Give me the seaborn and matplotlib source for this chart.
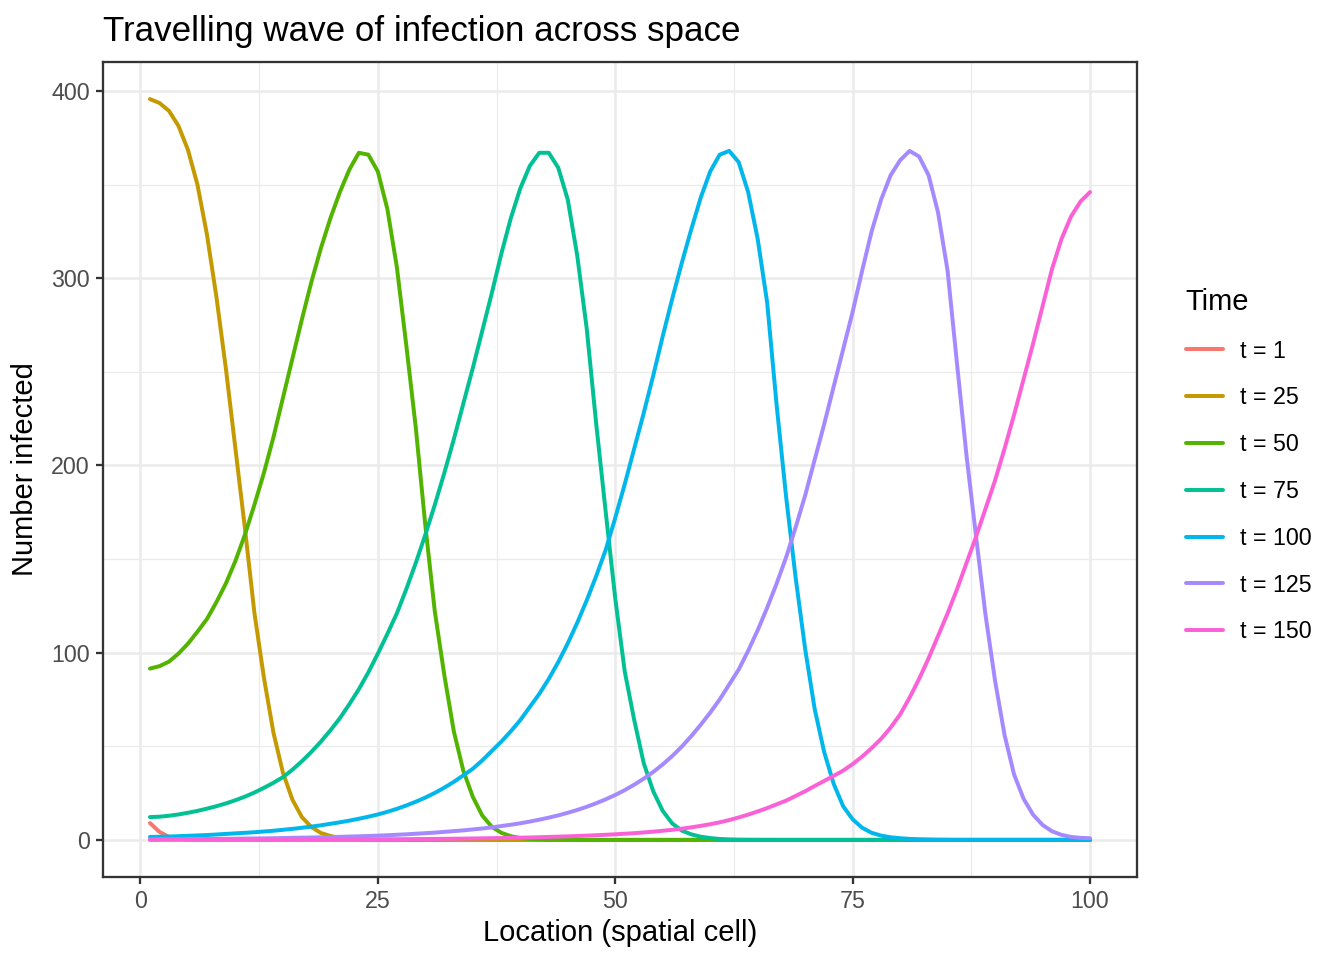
import numpy as np
import pandas as pd
import seaborn as sns
import matplotlib.pyplot as plt
from matplotlib.ticker import MultipleLocator

# locations 1..100 along the x axis
location = list(range(1, 101))

time_labels = ['t = 1', 't = 25', 't = 50', 't = 75', 't = 100', 't = 125', 't = 150']
colors = ['#F8766D', '#C49A00', '#53B400', '#00C094', '#00B6EB', '#A58AFF', '#FB61D7']

t1 = [9.0, 4.3, 1.6, 0.5, 0.15, 0.04, 0.01, 0, 0, 0,
      0, 0, 0, 0, 0, 0, 0, 0, 0, 0,
      0, 0, 0, 0, 0, 0, 0, 0, 0, 0,
      0, 0, 0, 0, 0, 0, 0, 0, 0, 0,
      0, 0, 0, 0, 0, 0, 0, 0, 0, 0,
      0, 0, 0, 0, 0, 0, 0, 0, 0, 0,
      0, 0, 0, 0, 0, 0, 0, 0, 0, 0,
      0, 0, 0, 0, 0, 0, 0, 0, 0, 0,
      0, 0, 0, 0, 0, 0, 0, 0, 0, 0,
      0, 0, 0, 0, 0, 0, 0, 0, 0, 0]

t25 = [395.7, 393.6, 389.4, 381.4, 368.6, 350.0, 323.4, 290.0, 251.6, 209.0,
       166.5, 121.3, 86.7, 57.4, 36.0, 21.5, 12.2, 6.9, 3.7, 2.1,
       1.1, 0.5, 0.25, 0.1, 0.05, 0.02, 0.01, 0, 0, 0,
       0, 0, 0, 0, 0, 0, 0, 0, 0, 0,
       0, 0, 0, 0, 0, 0, 0, 0, 0, 0,
       0, 0, 0, 0, 0, 0, 0, 0, 0, 0,
       0, 0, 0, 0, 0, 0, 0, 0, 0, 0,
       0, 0, 0, 0, 0, 0, 0, 0, 0, 0,
       0, 0, 0, 0, 0, 0, 0, 0, 0, 0,
       0, 0, 0, 0, 0, 0, 0, 0, 0, 0]

t50 = [91.5, 92.8, 95.2, 99.5, 104.8, 111.2, 118.0, 127.0, 137.0, 149.0,
       163.0, 179.0, 196.0, 215.0, 236.0, 257.0, 278.0, 298.0, 316.0, 332.0,
       346.0, 358.0, 367.0, 366.0, 357.0, 337.0, 306.0, 264.0, 220.0, 168.0,
       122.0, 88.0, 58.0, 37.0, 23.0, 13.0, 7.0, 3.8, 2.0, 1.0,
       0.5, 0.25, 0.1, 0.05, 0.02, 0.01, 0, 0, 0, 0,
       0, 0, 0, 0, 0, 0, 0, 0, 0, 0,
       0, 0, 0, 0, 0, 0, 0, 0, 0, 0,
       0, 0, 0, 0, 0, 0, 0, 0, 0, 0,
       0, 0, 0, 0, 0, 0, 0, 0, 0, 0,
       0, 0, 0, 0, 0, 0, 0, 0, 0, 0]

t75 = [12.2, 12.4, 12.9, 13.6, 14.5, 15.5, 16.7, 18.0, 19.5, 21.2,
       23.1, 25.3, 27.8, 30.5, 33.5, 37.5, 42.0, 47.0, 52.5, 58.5,
       65.0, 72.5, 80.5, 89.5, 99.5, 110.0, 121.0, 134.0, 148.0, 163.0,
       179.0, 196.0, 214.0, 233.0, 252.0, 272.0, 292.0, 313.0, 332.0, 348.0,
       360.0, 367.0, 367.0, 359.0, 342.0, 312.0, 273.0, 222.0, 175.0, 129.0,
       90.0, 64.0, 41.0, 26.0, 15.5, 8.8, 5.0, 3.0, 1.7, 1.0,
       0.5, 0.25, 0.1, 0.05, 0.02, 0.01, 0, 0, 0, 0,
       0, 0, 0, 0, 0, 0, 0, 0, 0, 0,
       0, 0, 0, 0, 0, 0, 0, 0, 0, 0,
       0, 0, 0, 0, 0, 0, 0, 0, 0, 0]

t100 = [1.6, 1.7, 1.8, 2.0, 2.2, 2.4, 2.6, 2.9, 3.2, 3.5,
        3.8, 4.1, 4.5, 4.9, 5.4, 5.9, 6.5, 7.1, 7.8, 8.6,
        9.4, 10.3, 11.3, 12.4, 13.6, 15.0, 16.6, 18.4, 20.4, 22.6,
        25.1, 27.9, 31.0, 34.5, 38.0, 42.5, 47.5, 52.5, 58.0, 64.0,
        71.0, 78.0, 86.0, 95.0, 105.0, 116.0, 128.0, 141.0, 155.0, 172.0,
        190.0, 209.0, 228.0, 248.0, 269.0, 289.0, 308.0, 326.0, 343.0, 357.0,
        366.0, 368.0, 362.0, 346.0, 321.0, 287.0, 232.0, 183.0, 140.0, 102.0,
        70.0, 47.0, 30.0, 18.0, 11.0, 6.5, 3.8, 2.3, 1.4, 0.9,
        0.55, 0.35, 0.2, 0.1, 0.05, 0.02, 0.01, 0, 0, 0,
        0, 0, 0, 0, 0, 0, 0, 0, 0, 0]

t125 = [0.3, 0.33, 0.36, 0.39, 0.42, 0.46, 0.5, 0.55, 0.6, 0.65,
        0.71, 0.77, 0.84, 0.92, 1.0, 1.1, 1.2, 1.3, 1.4, 1.5,
        1.65, 1.8, 1.95, 2.1, 2.3, 2.5, 2.75, 3.0, 3.3, 3.6,
        3.9, 4.3, 4.7, 5.1, 5.6, 6.1, 6.7, 7.4, 8.1, 8.9,
        9.8, 10.8, 11.9, 13.1, 14.5, 16.0, 17.7, 19.6, 21.7, 24.0,
        26.6, 29.5, 32.7, 36.3, 40.3, 44.8, 49.8, 55.4, 61.5, 68.0,
        75.0, 83.0, 91.0, 101.0, 112.0, 124.0, 137.0, 151.0, 167.0, 184.0,
        203.0, 222.0, 242.0, 262.0, 282.0, 304.0, 325.0, 342.0, 355.0, 363.0,
        368.0, 365.0, 355.0, 335.0, 304.0, 254.0, 205.0, 162.0, 120.0, 85.0,
        56.0, 35.0, 22.0, 13.5, 8.0, 4.6, 2.7, 1.6, 1.1, 0.9]

t150 = [0.03, 0.03, 0.04, 0.04, 0.05, 0.05, 0.06, 0.06, 0.07, 0.07,
        0.08, 0.09, 0.1, 0.11, 0.12, 0.13, 0.14, 0.16, 0.17, 0.19,
        0.21, 0.23, 0.25, 0.27, 0.3, 0.33, 0.36, 0.4, 0.44, 0.48,
        0.53, 0.58, 0.64, 0.7, 0.77, 0.85, 0.93, 1.0, 1.1, 1.2,
        1.3, 1.45, 1.6, 1.75, 1.9, 2.1, 2.3, 2.5, 2.75, 3.0,
        3.3, 3.6, 4.0, 4.4, 4.9, 5.4, 6.0, 6.7, 7.5, 8.4,
        9.4, 10.6, 12.0, 13.5, 15.2, 17.0, 19.0, 21.0, 23.5, 26.0,
        28.8, 31.5, 34.2, 37.0, 40.5, 44.5, 49.0, 54.0, 60.0, 67.0,
        76.0, 86.0, 97.0, 109.0, 121.0, 134.0, 148.0, 162.0, 177.0, 192.0,
        209.0, 227.0, 246.0, 265.0, 285.0, 305.0, 321.0, 333.0, 341.0, 346.0]

series = [t1, t25, t50, t75, t100, t125, t150]

df = pd.DataFrame({
    'Location': location * len(series),
    'Infected': [v for s in series for v in s],
    'Time': [lab for lab in time_labels for _ in location],
})

sns.set_style('white')
plt.rcParams['font.family'] = ['Liberation Sans', 'DejaVu Sans']
plt.rcParams['text.color'] = 'black'
plt.rcParams['axes.labelcolor'] = 'black'

base = 14  # ggplot base_size equivalent
fig, ax = plt.subplots(figsize=(8.96, 6.4), dpi=150)
fig.subplots_adjust(left=0.0766, right=0.846, top=0.9354, bottom=0.0865)

sns.lineplot(data=df, x='Location', y='Infected', hue='Time', hue_order=time_labels,
             palette=dict(zip(time_labels, colors)), linewidth=1.9, estimator=None, ax=ax)

# ggplot-like 5% expansion
xr = max(location) - min(location)
ax.set_xlim(min(location) - 0.05 * xr, max(location) + 0.05 * xr)
ymax = df['Infected'].max()
ax.set_ylim(-0.05 * ymax, ymax * 1.05)

ax.xaxis.set_major_locator(MultipleLocator(25))
ax.xaxis.set_minor_locator(MultipleLocator(12.5))
ax.yaxis.set_major_locator(MultipleLocator(100))
ax.yaxis.set_minor_locator(MultipleLocator(50))
ax.grid(which='major', color='#EBEBEB', linewidth=1.2)
ax.grid(which='minor', color='#EBEBEB', linewidth=0.6)
ax.set_axisbelow(True)
for sp in ax.spines.values():
    sp.set_color('#333333')
    sp.set_linewidth(1.1)
ax.tick_params(which='major', length=3.5, width=1.1, color='#333333',
               labelsize=base * 0.8, labelcolor='#4D4D4D', pad=2.8, left=True, bottom=True)
ax.tick_params(which='minor', length=0, left=False, bottom=False)

ax.set_xlabel('Location (spatial cell)', fontsize=base, color='black', labelpad=3)
ax.set_ylabel('Number infected', fontsize=base, color='black', labelpad=6)
ax.set_title('Travelling wave of infection across space', loc='left',
             fontsize=base * 1.2, pad=10, color='black')

handles, labels = ax.get_legend_handles_labels()
ax.get_legend().remove()
leg = fig.legend(handles, labels, title='Time', loc='center left',
                 bbox_to_anchor=(0.8735, 0.515), frameon=False, fontsize=base * 0.8,
                 title_fontsize=base, labelspacing=1.02, handlelength=1.59,
                 handletextpad=0.73, borderpad=0, labelcolor='black')
leg.get_title().set_color('black')
leg._legend_box.align = 'left'
for h in leg.get_lines():
    h.set_linewidth(1.9)

fig.savefig('out.png', dpi=150)
